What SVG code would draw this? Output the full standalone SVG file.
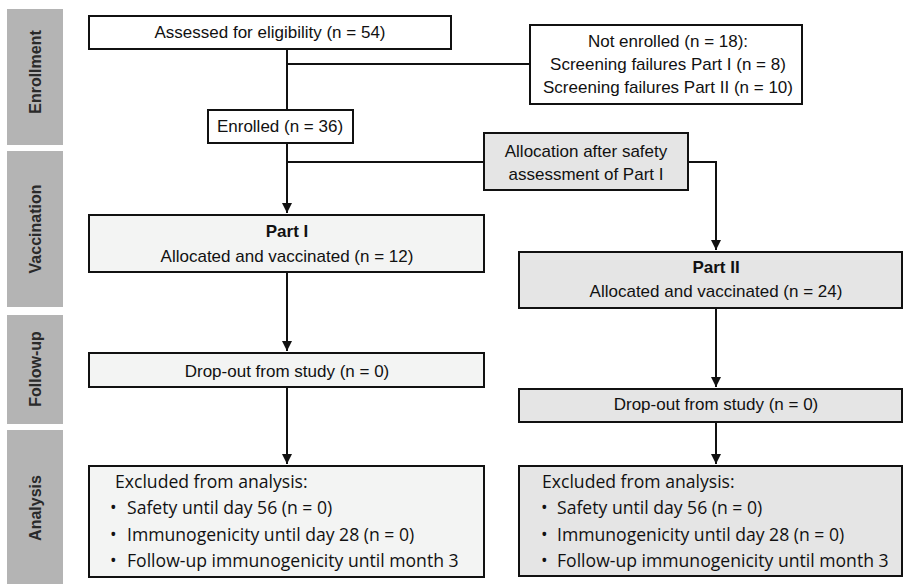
<svg xmlns="http://www.w3.org/2000/svg" width="904" height="584" viewBox="0 0 904 584">
<defs>
<style>
.side{fill:#b4b4b4}
.sl{font-family:"Liberation Sans",Arial,sans-serif;font-weight:bold;font-size:16px;fill:#2a2a2a;text-anchor:middle}
.box{stroke:#111;stroke-width:2}
.w{fill:#fff}
.l{fill:#f3f4f3}
.g{fill:#e5e5e5}
.t{font-family:"Liberation Sans",Arial,sans-serif;font-size:17px;fill:#111;text-anchor:middle}
.b{font-weight:bold}
.c{font-family:"Open Sans","Noto Sans",sans-serif;font-size:17.6px;fill:#111}
.ln{fill:none;stroke:#111;stroke-width:2}
</style>
<marker id="ah" viewBox="0 0 10 10" refX="10" refY="5" markerWidth="5" markerHeight="5" orient="auto" markerUnits="strokeWidth">
<path d="M0,0L10,5L0,10z" fill="#111"/>
</marker>
</defs>
<rect width="904" height="584" fill="#fff"/>
<g id="stages">
<rect class="side" x="7" y="9" width="56" height="136"/>
<rect class="side" x="7" y="151" width="56" height="156"/>
<rect class="side" x="7" y="315" width="56" height="109"/>
<rect class="side" x="7" y="430" width="56" height="154"/>
<text class="sl" transform="translate(41,72) rotate(-90)">Enrollment</text>
<text class="sl" transform="translate(41,229) rotate(-90)">Vaccination</text>
<text class="sl" transform="translate(41,369) rotate(-90)">Follow-up</text>
<text class="sl" transform="translate(41,508) rotate(-90)">Analysis</text>
</g>
<g id="connectors">
<path class="ln" d="M287,49V110"/>
<path class="ln" d="M287,64H530"/>
<path class="ln" d="M287,143V213" marker-end="url(#ah)"/>
<path class="ln" d="M287,162H484"/>
<path class="ln" d="M688,162H716V250" marker-end="url(#ah)"/>
<path class="ln" d="M287,272V351" marker-end="url(#ah)"/>
<path class="ln" d="M287,387V464" marker-end="url(#ah)"/>
<path class="ln" d="M716,308V387" marker-end="url(#ah)"/>
<path class="ln" d="M716,422V464" marker-end="url(#ah)"/>
</g>
<g id="assessed">
<rect class="box w" x="89" y="16" width="362" height="33"/>
<text class="t" x="270" y="38">Assessed for eligibility (n = 54)</text>
</g>
<g id="not-enrolled">
<rect class="box w" x="530" y="25" width="272" height="79"/>
<text class="t" x="668" y="47">Not enrolled (n = 18):</text>
<text class="t" x="668" y="70">Screening failures Part I (n = 8)</text>
<text class="t" x="668" y="93">Screening failures Part II (n = 10)</text>
</g>
<g id="enrolled">
<rect class="box w" x="208" y="110" width="145" height="33"/>
<text class="t" x="280" y="132">Enrolled (n = 36)</text>
</g>
<g id="allocation">
<rect class="box g" x="484" y="133" width="204" height="57"/>
<text class="t" x="586" y="157">Allocation after safety</text>
<text class="t" x="586" y="180">assessment of Part I</text>
</g>
<g id="part1">
<rect class="box l" x="89" y="215" width="395" height="57"/>
<text class="t b" x="287" y="237">Part I</text>
<text class="t" x="287" y="262">Allocated and vaccinated (n = 12)</text>
</g>
<g id="part2">
<rect class="box g" x="519" y="252" width="383" height="56"/>
<text class="t b" x="716" y="273">Part II</text>
<text class="t" x="716" y="297">Allocated and vaccinated (n = 24)</text>
</g>
<g id="dropout1">
<rect class="box l" x="89" y="353" width="395" height="34"/>
<text class="t" x="287" y="377">Drop-out from study (n = 0)</text>
</g>
<g id="dropout2">
<rect class="box g" x="519" y="389" width="383" height="33"/>
<text class="t" x="716" y="410">Drop-out from study (n = 0)</text>
</g>
<g id="analysis1">
<rect class="box l" x="89" y="466" width="395" height="111"/>
<text class="c" x="115" y="488">Excluded from analysis:</text>
<text class="c" x="110" y="514">•</text><text class="c" x="127" y="514">Safety until day 56 (n = 0)</text>
<text class="c" x="110" y="541">•</text><text class="c" x="127" y="541">Immunogenicity until day 28 (n = 0)</text>
<text class="c" x="110" y="567">•</text><text class="c" x="127" y="567">Follow-up immunogenicity until month 3</text>
</g>
<g id="analysis2">
<rect class="box g" x="519" y="466" width="383" height="110"/>
<text class="c" x="542" y="488">Excluded from analysis:</text>
<text class="c" x="541" y="514">•</text><text class="c" x="557" y="514">Safety until day 56 (n = 0)</text>
<text class="c" x="541" y="541">•</text><text class="c" x="557" y="541">Immunogenicity until day 28 (n = 0)</text>
<text class="c" x="541" y="567">•</text><text class="c" x="557" y="567">Follow-up immunogenicity until month 3</text>
</g>
</svg>
